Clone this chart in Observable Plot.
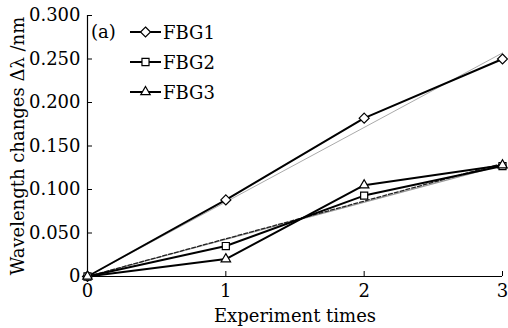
<!DOCTYPE html>
<html>
<head>
<meta charset="utf-8">
<script src="https://cdn.jsdelivr.net/npm/d3@7"></script>
<script src="https://cdn.jsdelivr.net/npm/@observablehq/plot@0.6"></script>
<style>
  html, body { margin: 0; padding: 0; background: #fff; }
  #wrap { position: relative; width: 508px; height: 328px; font-family: "DejaVu Serif", serif; }
  #legend { position: absolute; left: 0; top: 0; width: 508px; height: 328px; pointer-events: none; }
</style>
</head>
<body>
<div id="wrap"></div>
<script>
const times = [0, 1, 2, 3];
const seriesNames = ["FBG1", "FBG2", "FBG3"];
const fbg1 = [0, 0.088, 0.182, 0.250];
const fbg2 = [0, 0.035, 0.093, 0.127];
const fbg3 = [0, 0.020, 0.105, 0.128];
const fitX = [0, 3];
const fit1 = [0, 0.257];
const fit2 = [0, 0.130];
const fit3 = [0, 0.128];
const yTicks = [0, 0.05, 0.10, 0.15, 0.20, 0.25, 0.30];
const xTicks = [0, 1, 2, 3];
const symbols = ["diamond2", "square2", "triangle2"];

const rows = [];
[fbg1, fbg2, fbg3].forEach((arr, i) => arr.forEach((v, j) => rows.push({s: seriesNames[i], x: times[j], y: v, sym: symbols[i]})));
const fitRows = (arr, name) => arr.map((v, j) => ({s: name, x: fitX[j], y: v}));

const chart = Plot.plot({
  width: 508, height: 328,
  marginLeft: 87, marginRight: 6, marginTop: 15, marginBottom: 52,
  style: {fontFamily: "DejaVu Serif, serif", fontSize: "17px", color: "#000", background: "#fff", overflow: "visible"},
  x: {domain: [0, 3]},
  y: {domain: [0, 0.3]},
  marks: [
    Plot.axisX({ticks: xTicks, tickSize: -5, tickPadding: 13, label: null, tickFormat: d => String(d), fontSize: 18}),
    Plot.axisY({ticks: yTicks, tickSize: -5, tickPadding: 12, label: null, tickFormat: d => d === 0 ? "0" : d3.format(".3f")(d), fontSize: 18}),
    Plot.text(["Experiment times"], {frameAnchor: "bottom", dy: 45, fontSize: 18}),
    Plot.text(["Wavelength changes Δλ /nm"], {frameAnchor: "left", textAnchor: "middle", dx: -69, rotate: -90, fontSize: 18}),
    Plot.line(fitRows(fit1, "fit1"), {x: "x", y: "y", stroke: "#aaa", strokeWidth: 1}),
    Plot.line(fitRows(fit3, "fit3"), {x: "x", y: "y", stroke: "#999", strokeWidth: 1.2}),
    Plot.line(fitRows(fit2, "fit2"), {x: "x", y: "y", stroke: "#222", strokeWidth: 1.3, strokeDasharray: "4,2"}),
    Plot.line(rows, {x: "x", y: "y", z: "s", stroke: "#000", strokeWidth: 2}),
    Plot.ruleX([0], {stroke: "#000", strokeWidth: 1.2}),
    Plot.ruleY([0], {stroke: "#000", strokeWidth: 1.2}),
    Plot.dot(rows, {x: "x", y: "y", symbol: "sym", r: 4.5, fill: "#fff", stroke: "#000", strokeWidth: 1.2})
  ]
});
document.getElementById("wrap").appendChild(chart);

// legend overlay
const ns = "http://www.w3.org/2000/svg";
const leg = document.createElementNS(ns, "svg");
leg.setAttribute("id", "legend");
leg.setAttribute("width", 508);
leg.setAttribute("height", 328);
const mk = (tag, attrs, text) => {
  const e = document.createElementNS(ns, tag);
  for (const k in attrs) e.setAttribute(k, attrs[k]);
  if (text) e.textContent = text;
  leg.appendChild(e);
  return e;
};
mk("text", {x: 91, y: 38, "font-size": 18, "font-family": "DejaVu Serif, serif"}, "(a)");
seriesNames.forEach((name, i) => {
  const cy = 32 + i * 30;
  mk("line", {x1: 130, x2: 161, y1: cy, y2: cy, stroke: "#000", "stroke-width": 2});
  const symType = [d3.symbolDiamond2, d3.symbolSquare2, d3.symbolTriangle2][i];
  mk("path", {d: d3.symbol(symType, 4.5 * 4.5 * Math.PI)(), transform: `translate(145.5,${cy})`, fill: "#fff", stroke: "#000", "stroke-width": 1.2});
  mk("text", {x: 163, y: cy + 7, "font-size": 18, "font-family": "DejaVu Serif, serif"}, name);
});
document.getElementById("wrap").appendChild(leg);
</script>
</body>
</html>
